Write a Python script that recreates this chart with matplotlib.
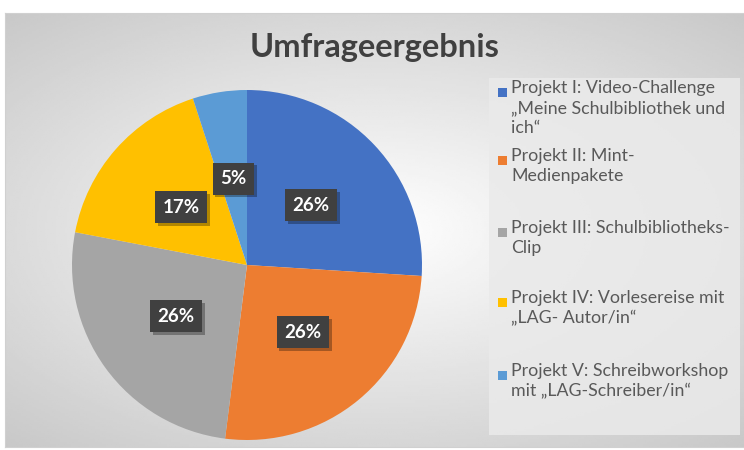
import numpy as np
import matplotlib.pyplot as plt
import matplotlib.patheffects as pe
from matplotlib.patches import Rectangle

plt.rcParams['font.family'] = ['Lato', 'DejaVu Sans']

# ---- data ----
title = "Umfrageergebnis"
projects = [
    "Projekt I: Video-Challenge\n\u201eMeine Schulbibliothek und\nich\u201c",
    "Projekt II: Mint-\nMedienpakete",
    "Projekt III: Schulbibliotheks-\nClip",
    "Projekt IV: Vorlesereise mit\n\u201eLAG- Autor/in\u201c",
    "Projekt V: Schreibworkshop\nmit \u201eLAG-Schreiber/in\u201c",
]
shares = [26, 26, 26, 17, 5]
colors = ["#4472C4", "#ED7D31", "#A5A5A5", "#FFC000", "#5B9BD5"]

W, H = 744, 450
fig = plt.figure(figsize=(W / 100, H / 100), dpi=100)
fig.patch.set_facecolor("white")

# chart area background with radial gradient
bg = fig.add_axes([5 / W, 3 / H, 739 / W, 434 / H])
yy, xx = np.mgrid[-1:1:200j, -1:1:340j]
r = np.sqrt((xx * 0.9) ** 2 + (yy * 1.0) ** 2)
g = np.clip(1.0 - 0.16 * r, 0, 1)
bg.imshow(g, cmap="gray", vmin=0, vmax=1, aspect="auto", extent=[0, 1, 0, 1])
bg.set_xlim(0, 1)
bg.set_ylim(0, 1)
bg.set_xticks([])
bg.set_yticks([])
for s in bg.spines.values():
    s.set_color("#d0d0d0")
    s.set_linewidth(0.8)

fig.text(375 / W, 1 - 48 / H, title, ha="center", va="center",
         fontsize=23.5, fontweight="bold", color="#404040")

# pie
cx, cy, rad = 247, 265, 175
ax = fig.add_axes([(cx - rad) / W, (H - cy - rad) / H, 2 * rad / W, 2 * rad / H])
wedges, texts, autotexts = ax.pie(
    shares, colors=colors, startangle=90, counterclock=False,
    autopct="%1.0f%%", pctdistance=0.5,
    textprops=dict(color="white", fontsize=13.5, fontweight="bold"),
    wedgeprops=dict(linewidth=0))
ax.set_xlim(-1, 1)
ax.set_ylim(-1, 1)
ax.set_aspect("equal")
for t in autotexts:
    t.set_bbox(dict(boxstyle="square,pad=0.4", fc="#404040", ec="none"))
    t.get_bbox_patch().set_path_effects(
        [pe.SimplePatchShadow(offset=(2, -2), shadow_rgbFace="black", alpha=0.3), pe.Normal()])
    t.set_zorder(4)

# legend box
fig.patches.append(Rectangle((489 / W, 1 - 435 / H), 251 / W, 357 / H,
                             transform=fig.transFigure, fc="#eaeaea", ec="none",
                             alpha=0.85, zorder=1))
legend_y = [92, 160, 232, 302, 375]
for lbl, c, ly in zip(projects, colors, legend_y):
    fig.patches.append(Rectangle((498 / W, 1 - (ly + 5) / H), 9 / W, 9 / H,
                                 transform=fig.transFigure, fc=c, ec="none", zorder=2))
    fig.text(511 / W, 1 - (ly - 12) / H, lbl, ha="left", va="top", fontsize=12.8,
             color="#595959", linespacing=1.3, zorder=3)

fig.savefig("out.png", dpi=100)
